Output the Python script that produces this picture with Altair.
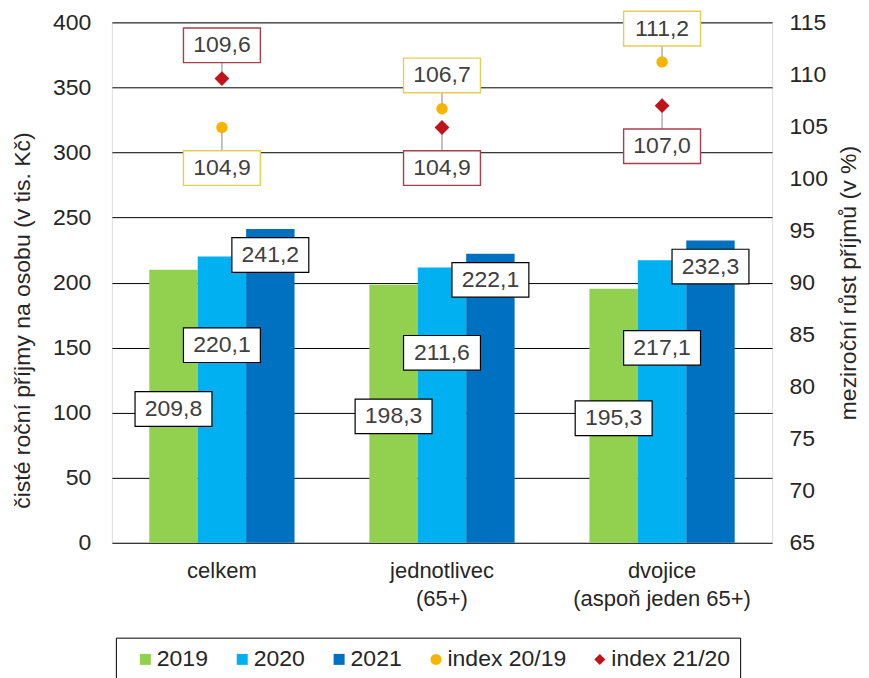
import altair as alt
import pandas as pd

# ---- data ----
categories = ["celkem", "jednotlivec\n(65+)", "dvojice\n(aspoň jeden 65+)"]
years = ["2019", "2020", "2021"]
income_2019 = [209.8, 198.3, 195.3]
income_2020 = [220.1, 211.6, 217.1]
income_2021 = [241.2, 222.1, 232.3]
index_names = ["index 20/19", "index 21/20"]
index_20_19 = [104.9, 106.7, 111.2]
index_21_20 = [109.6, 104.9, 107.0]

# ---- styles ----
FONT = "Liberation Sans"
bar_colors = ["#92D050", "#00B0F0", "#0070C0"]
idx_colors = ["#F5B400", "#C0141C"]
idx_box_colors = ["#E3CF55", "#A6404C"]
TXT = "#404040"
AX = "#262626"
BOX = "M-1,-0.45L1,-0.45L1,0.45L-1,0.45Z"


def fmt(v):
    return f"{v:.1f}".replace(".", ",")


# bar table (label placement derived from the value, per series)
def bar_label_y(year, v):
    if year == "2019":
        return v * 0.49
    if year == "2020":
        return v * 0.69
    return v - 20

rows = []
for year, vals in zip(years, [income_2019, income_2020, income_2021]):
    for c, v in zip(categories, vals):
        rows.append({"cat": c, "year": year, "value": v,
                     "label_y": bar_label_y(year, v), "text": fmt(v)})
bar_df = pd.DataFrame(rows)

rows = []
for i, c in enumerate(categories):
    a, b = index_20_19[i], index_21_20[i]
    for name, v, other in [(index_names[0], a, b), (index_names[1], b, a)]:
        off = 3.2 if v >= other else -3.9
        rows.append({"cat": c, "series": name, "value": v,
                     "label_y": v + off, "text": fmt(v)})
idx_df = pd.DataFrame(rows)

legend_domain = years + index_names
legend_colors = bar_colors + idx_colors
legend_shapes = ["square", "square", "square", "circle", "diamond"]

x_enc = alt.X("cat:N", sort=categories,
              scale=alt.Scale(paddingInner=0.34, paddingOuter=0.17),
              axis=alt.Axis(title=None, labelExpr="split(datum.label, '\\n')",
                            labelAngle=0, labelFont=FONT, labelFontSize=22,
                            labelColor=AX, labelPadding=18, labelLineHeight=28,
                            ticks=False, tickSize=0, domain=False, grid=False))
xoff = alt.XOffset("year:N", sort=years, scale=alt.Scale(paddingInner=0, paddingOuter=0))
yl_scale = alt.Scale(domain=[0, 400])
yr_scale = alt.Scale(domain=[65, 115])

left_axis = alt.Axis(values=list(range(0, 401, 50)), grid=True, gridColor="black",
                     gridWidth=1, ticks=False, tickSize=0, domain=False,
                     labelFont=FONT, labelFontSize=23, labelColor=AX, labelPadding=21,
                     title="čisté roční příjmy na osobu (v tis. Kč)", titleFont=FONT,
                     titleFontSize=23, titleFontWeight="normal", titleColor=AX,
                     titlePadding=18, titleY=298)
right_axis = alt.Axis(orient="right", values=list(range(65, 116, 5)), grid=False,
                      ticks=False, tickSize=0, domain=False,
                      labelFont=FONT, labelFontSize=23, labelColor=AX, labelPadding=17,
                      title="meziroční růst příjmů (v %)", titleFont=FONT,
                      titleFontSize=23, titleFontWeight="normal", titleColor=AX,
                      titleAngle=270, titleBaseline="top", titlePadding=10)

bars = alt.Chart(bar_df).mark_bar().encode(
    x=x_enc, xOffset=xoff,
    y=alt.Y("value:Q", scale=yl_scale, axis=left_axis),
    fill=alt.Fill("year:N", scale=alt.Scale(domain=years, range=bar_colors), legend=None),
)
bar_boxes = alt.Chart(bar_df).mark_point(
    shape=BOX, size=77 ** 2, filled=True, fill="white", stroke="black",
    strokeWidth=1.2, opacity=1
).encode(x=x_enc, xOffset=xoff, y=alt.Y("label_y:Q", scale=yl_scale, axis=left_axis))
bar_text = alt.Chart(bar_df).mark_text(font=FONT, fontSize=23, color=TXT).encode(
    x=x_enc, xOffset=xoff, y=alt.Y("label_y:Q", scale=yl_scale, axis=left_axis), text="text:N")
left = alt.layer(bars, bar_boxes, bar_text)

leg = alt.Legend(title=None, orient="none", legendX=4, legendY=616,
                 direction="horizontal", strokeColor="black", padding=10,
                 symbolOffset=8,
                 labelFont=FONT, labelFontSize=23, labelColor=AX, symbolSize=121,
                 columnPadding=14, symbolStrokeWidth=0, labelOffset=0)
color_enc = alt.Color("series:N", scale=alt.Scale(domain=legend_domain, range=legend_colors), legend=leg)
shape_enc = alt.Shape("series:N", scale=alt.Scale(domain=legend_domain, range=legend_shapes), legend=leg)

rules = alt.Chart(idx_df).mark_rule(color="#9a9a9a", strokeWidth=1.2).encode(
    x=x_enc, y=alt.Y("value:Q", scale=yr_scale, axis=right_axis), y2="label_y:Q")
idx_boxes = alt.Chart(idx_df).mark_point(
    shape=BOX, size=77 ** 2, filled=True, fill="white", strokeWidth=1.4, opacity=1
).encode(x=x_enc, y=alt.Y("label_y:Q", scale=yr_scale, axis=right_axis),
         stroke=alt.Stroke("series:N", scale=alt.Scale(domain=index_names, range=idx_box_colors), legend=None))
idx_text = alt.Chart(idx_df).mark_text(font=FONT, fontSize=23, color=TXT).encode(
    x=x_enc, y=alt.Y("label_y:Q", scale=yr_scale, axis=right_axis), text="text:N")
pts_a = alt.Chart(idx_df).transform_filter(alt.datum.series == index_names[0]).mark_point(
    filled=True, size=130, opacity=1).encode(
    x=x_enc, y=alt.Y("value:Q", scale=yr_scale, axis=right_axis), color=color_enc, shape=shape_enc)
pts_b = alt.Chart(idx_df).transform_filter(alt.datum.series == index_names[1]).mark_point(
    filled=True, size=220, opacity=1).encode(
    x=x_enc, y=alt.Y("value:Q", scale=yr_scale, axis=right_axis), color=color_enc, shape=shape_enc)
right = alt.layer(rules, idx_boxes, idx_text, pts_a, pts_b)

chart = alt.layer(left, right).resolve_scale(y="independent").properties(
    width=661, height=521,
    padding={"left": 3, "top": 0, "right": 0, "bottom": 0},
).configure_view(stroke="black", strokeWidth=1.2).configure(background="white")

chart.save("out.html", embed_options={"renderer": "svg", "actions": False})
